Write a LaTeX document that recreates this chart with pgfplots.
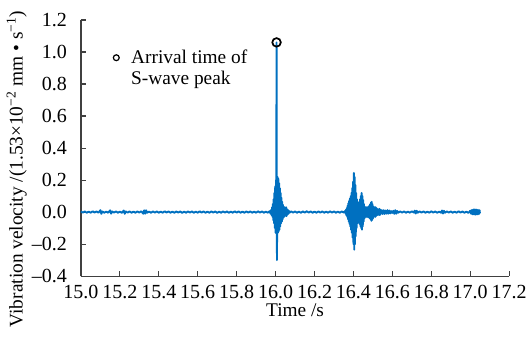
\documentclass[border=0pt]{standalone}
\usepackage{pgfplots}
\pgfplotsset{compat=1.18}
\usepackage{fontspec}
\setmainfont{Liberation Serif}
\definecolor{sig}{RGB}{0,112,192}
\definecolor{axc}{RGB}{64,64,64}
\begin{document}
\begin{tikzpicture}
\begin{axis}[
  scale only axis,
  width=321pt, height=192pt,
  xmin=15, xmax=17.2, ymin=-0.4, ymax=1.2,
  axis x line*=bottom, axis y line*=left,
  axis line style={axc, line width=0.9pt},
  tick style={axc, line width=0.8pt},
  tick align=inside,
  major tick length=3.5pt,
  xtick={15,15.2,15.4,15.6,15.8,16,16.2,16.4,16.6,16.8,17,17.2},
  xticklabels={15.0,15.2,15.4,15.6,15.8,16.0,16.2,16.4,16.6,16.8,17.0,17.2},
  ytick={-0.4,-0.2,0,0.2,0.4,0.6,0.8,1.0,1.2},
  yticklabels={–0.4,–0.2,0.0,0.2,0.4,0.6,0.8,1.0,1.2},
  tick label style={font=\fontsize{15}{18}\selectfont},
  xticklabel style={yshift=-3pt, text depth=0pt},
  yticklabel style={xshift=-7pt},
  label style={font=\fontsize{14.5}{17}\selectfont},
  xlabel={Time /s},
  xlabel style={yshift=3pt},
  ylabel={Vibration velocity /(1.53×10\textsuperscript{−2} mm • s\textsuperscript{−1})},
  ylabel style={at={(ticklabel cs:0.418)}, yshift=-3pt},
  legend style={at={(rel axis cs:0.046,0.905)}, anchor=north west, draw=none, fill=none,
    font=\fontsize{14.5}{17}\selectfont, row sep=0pt, column sep=7pt},
  legend cell align=left,
  clip=false,
]
\addlegendimage{black, only marks, mark=o, mark size=2.2pt, mark options={line width=0.9pt}}
\addlegendentry{Arrival time of}
\addlegendimage{empty legend}
\addlegendentry{S-wave peak}
\addplot[sig, line width=1.4pt, line join=round, forget plot] table {
15.00 0.004
15.01 -0.003
15.02 0.004
15.03 -0.004
15.04 0.003
15.05 -0.004
15.06 0.005
15.07 -0.003
15.08 0.004
15.09 -0.004
15.10 0.012
15.105 -0.011
15.11 0.004
15.12 -0.004
15.13 0.003
15.14 -0.004
15.15 0.011
15.155 -0.010
15.16 0.004
15.17 -0.003
15.18 0.004
15.19 -0.004
15.20 0.003
15.21 -0.005
15.22 0.010
15.225 -0.011
15.23 0.004
15.24 -0.003
15.25 0.004
15.26 -0.004
15.27 0.003
15.28 -0.004
15.29 0.004
15.30 -0.003
15.31 0.005
15.32 -0.010
15.325 0.011
15.33 -0.010
15.335 0.011
15.34 -0.004
15.35 0.003
15.36 -0.004
15.37 0.004
15.38 -0.003
15.39 0.004
15.40 -0.004
15.41 0.003
15.42 -0.004
15.43 0.005
15.44 -0.003
15.45 0.004
15.46 -0.004
15.47 0.003
15.48 -0.004
15.49 0.004
15.50 -0.003
15.51 0.004
15.52 -0.005
15.53 0.003
15.54 -0.004
15.55 0.004
15.56 -0.003
15.57 0.004
15.58 -0.004
15.59 0.003
15.60 -0.004
15.61 0.005
15.62 -0.003
15.63 0.004
15.64 -0.004
15.65 0.003
15.66 -0.004
15.67 0.004
15.68 -0.003
15.69 0.004
15.70 -0.005
15.71 0.003
15.72 -0.004
15.73 0.004
15.74 -0.003
15.75 0.004
15.76 -0.004
15.77 0.003
15.78 -0.004
15.79 0.005
15.80 -0.003
15.81 0.004
15.82 -0.004
15.83 0.003
15.84 -0.004
15.85 0.004
15.86 -0.003
15.87 0.004
15.88 -0.004
15.89 0.003
15.90 -0.004
15.91 0.005
15.92 -0.003
15.93 0.004
15.94 -0.004
15.95 0.003
15.96 -0.004
15.970 0.006
15.974 -0.010
15.978 0.015
15.980 -0.020
15.982 0.030
15.984 -0.030
15.986 0.050
15.988 -0.050
15.990 0.080
15.992 -0.070
15.994 0.120
15.996 -0.100
15.998 0.160
16.000 -0.130
16.002 0.200
16.003 -0.120
16.004 0.450
16.005 1.060
16.006 0.350
16.007 -0.300
16.008 -0.120
16.010 0.220
16.012 -0.130
16.014 0.210
16.016 -0.120
16.018 0.180
16.020 -0.110
16.022 0.150
16.024 -0.090
16.026 0.120
16.028 -0.070
16.030 0.090
16.032 -0.060
16.034 0.065
16.036 -0.045
16.038 0.045
16.040 -0.035
16.042 0.035
16.044 -0.030
16.046 0.030
16.048 -0.025
16.050 0.025
16.052 -0.020
16.054 0.030
16.056 -0.025
16.058 0.020
16.060 -0.018
16.062 0.015
16.065 -0.012
16.068 0.008
16.07 -0.005
16.08 0.004
16.09 -0.003
16.10 0.004
16.11 -0.004
16.12 0.003
16.13 -0.004
16.14 0.004
16.15 -0.003
16.16 0.005
16.17 -0.003
16.18 0.004
16.19 -0.004
16.20 0.003
16.21 -0.004
16.22 0.004
16.23 -0.003
16.24 0.004
16.25 -0.004
16.26 0.003
16.27 -0.004
16.28 0.005
16.29 -0.003
16.30 0.004
16.31 -0.004
16.32 0.003
16.33 -0.004
16.34 0.004
16.35 -0.003
16.356 0.006
16.360 -0.010
16.362 0.015
16.364 -0.020
16.366 0.025
16.368 -0.030
16.370 0.040
16.372 -0.045
16.374 0.055
16.376 -0.060
16.378 0.070
16.380 -0.075
16.382 0.085
16.384 -0.090
16.386 0.100
16.388 -0.110
16.390 0.120
16.392 -0.130
16.394 0.150
16.396 -0.160
16.398 0.190
16.400 -0.200
16.402 0.245
16.404 -0.235
16.406 0.220
16.408 -0.200
16.410 0.170
16.412 -0.150
16.414 0.120
16.416 -0.100
16.418 0.080
16.420 -0.070
16.422 0.060
16.424 -0.055
16.426 0.055
16.428 -0.060
16.430 0.065
16.432 -0.075
16.434 0.080
16.436 -0.090
16.438 0.100
16.440 -0.100
16.442 0.120
16.444 -0.110
16.446 0.100
16.448 -0.090
16.450 0.075
16.452 -0.060
16.454 0.050
16.456 -0.040
16.458 0.035
16.460 -0.030
16.462 0.030
16.464 -0.030
16.466 0.030
16.468 -0.030
16.470 0.030
16.472 -0.030
16.474 0.030
16.476 -0.030
16.478 0.035
16.480 -0.035
16.482 0.040
16.484 -0.040
16.486 0.050
16.488 -0.045
16.490 0.060
16.492 -0.055
16.494 0.064
16.496 -0.050
16.498 0.050
16.500 -0.040
16.502 0.035
16.504 -0.030
16.506 0.025
16.508 -0.025
16.510 0.030
16.512 -0.030
16.514 0.030
16.516 -0.025
16.518 0.025
16.520 -0.020
16.522 0.020
16.524 -0.018
16.526 0.015
16.528 -0.015
16.530 0.018
16.532 -0.018
16.534 0.020
16.536 -0.018
16.538 0.015
16.540 -0.012
16.545 0.012
16.550 -0.012
16.555 0.012
16.560 -0.012
16.565 0.010
16.570 -0.010
16.575 0.012
16.580 -0.010
16.585 0.010
16.590 -0.008
16.595 0.006
16.60 -0.005
16.605 0.008
16.610 -0.011
16.615 0.012
16.620 -0.010
16.625 0.007
16.63 -0.004
16.64 0.004
16.65 -0.003
16.66 0.004
16.67 -0.004
16.68 0.003
16.69 -0.004
16.70 0.005
16.71 -0.003
16.715 0.009
16.72 -0.009
16.725 0.008
16.73 -0.004
16.74 0.004
16.75 -0.003
16.76 0.004
16.77 -0.004
16.78 0.003
16.79 -0.004
16.80 0.005
16.81 -0.003
16.82 0.004
16.83 -0.004
16.84 0.003
16.85 -0.004
16.855 0.010
16.86 -0.009
16.865 0.008
16.87 -0.004
16.88 0.004
16.89 -0.003
16.90 0.004
16.91 -0.004
16.92 0.003
16.93 -0.004
16.94 0.005
16.95 -0.003
16.96 0.004
16.97 -0.004
16.98 0.003
16.99 -0.005
17.000 0.008
17.004 -0.010
17.008 0.013
17.012 -0.014
17.016 0.016
17.020 -0.015
17.024 0.017
17.028 -0.016
17.032 0.015
17.036 -0.014
17.040 0.014
17.044 -0.013
17.048 0.012
17.050 -0.008
};
\addplot[black, only marks, mark=o, mark size=3.2pt, mark options={line width=1.3pt}, forget plot] coordinates {(16.005,1.06)};
\coordinate (bl) at (rel axis cs:-0.189,-0.234);
\coordinate (tr) at (rel axis cs:1.044,1.078);
\end{axis}
\pgfresetboundingbox
\useasboundingbox (bl) rectangle (tr);
\end{tikzpicture}
\end{document}
